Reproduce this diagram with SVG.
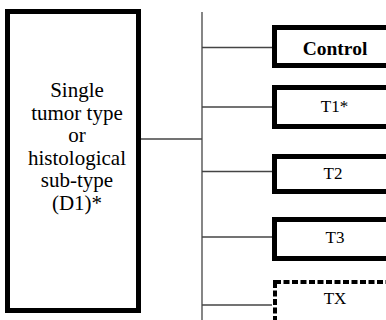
<svg xmlns="http://www.w3.org/2000/svg" width="386" height="320" viewBox="0 0 386 320">
<style>
.box{fill:#fff;stroke:#000;stroke-width:5}
.dash{fill:#fff;stroke:#000;stroke-width:4;stroke-dasharray:6 2.5}
.ln{stroke:#444;stroke-width:1.3;fill:none}
.s{font-family:'Liberation Serif','DejaVu Serif','Times New Roman',Times,serif}
</style>
<rect width="386" height="320" fill="#fff"/>
<g id="connectors">
<line class="ln" x1="202" y1="12" x2="202" y2="320" stroke="#777"/>
<line class="ln" x1="141" y1="139" x2="202" y2="139"/>
<line class="ln" x1="202" y1="47.5" x2="272" y2="47.5"/>
<line class="ln" x1="202" y1="107" x2="272" y2="107"/>
<line class="ln" x1="202" y1="171.5" x2="272" y2="171.5"/>
<line class="ln" x1="202" y1="237" x2="272" y2="237"/>
<line class="ln" x1="202" y1="305" x2="272" y2="305"/>
</g>
<g fill="#000" text-anchor="middle">
<g id="d1">
<rect class="box" x="7.5" y="11.5" width="131" height="299"/>
<text class="s" font-size="21"><tspan x="77" y="97">Single</tspan><tspan x="77" y="119.6">tumor type</tspan><tspan x="77" y="142.2">or</tspan><tspan x="77" y="164.8">histological</tspan><tspan x="77" y="187.4">sub-type</tspan><tspan x="77" y="210">(D1)*</tspan></text>
</g>
<g id="control">
<rect class="box" x="274.5" y="27.5" width="130" height="38"/>
<text class="s" x="335" y="55" font-size="19.5" font-weight="bold">Control</text>
</g>
<g id="t1">
<rect class="box" x="274.5" y="87.5" width="130" height="39"/>
<text class="s" x="334.5" y="112" font-size="17">T1*</text>
</g>
<g id="t2">
<rect class="box" x="274.5" y="156.5" width="130" height="35"/>
<text class="s" x="333" y="179" font-size="17">T2</text>
</g>
<g id="t3">
<rect class="box" x="274.5" y="219.5" width="130" height="39"/>
<text class="s" x="335" y="243" font-size="17">T3</text>
</g>
<g id="tx">
<rect class="dash" x="275" y="282" width="130" height="60"/>
<text class="s" x="335" y="304" font-size="17">TX</text>
</g>
</g>
</svg>
